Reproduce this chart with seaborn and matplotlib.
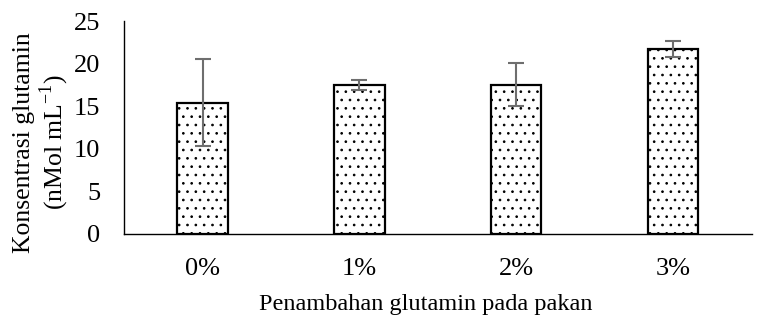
import pandas as pd
import matplotlib.pyplot as plt
import seaborn as sns

# --- Dados ---
perlakuan = ['0%', '1%', '2%', '3%']
konsentrasi = [15.4, 17.5, 17.55, 21.7]
sd = [5.1, 0.6, 2.5, 0.95]

sns.set_theme(style="white")
plt.rcParams['font.family'] = ['Liberation Serif', 'DejaVu Serif']
plt.rcParams['hatch.linewidth'] = 0.7
plt.rcParams['mathtext.fontset'] = 'custom'
plt.rcParams['mathtext.rm'] = 'Liberation Serif'

df = pd.DataFrame({'Perlakuan': perlakuan, 'Konsentrasi': konsentrasi, 'SD': sd})

fig = plt.figure(figsize=(7.57, 3.2), dpi=100)
ax = fig.add_axes([0.164, 0.269, 0.829, 0.665])

sns.barplot(data=df, x='Perlakuan', y='Konsentrasi', color='white', width=0.32,
            edgecolor='black', linewidth=1.6, errorbar=None, ax=ax)
for p in ax.patches:
    p.set_hatch('..')

ax.errorbar(range(len(perlakuan)), df['Konsentrasi'], yerr=df['SD'], fmt='none',
            ecolor='#6e6e6e', elinewidth=1.5, capsize=6, capthick=1.5)

ax.set_ylim(0, 25)
ax.set_xlim(-0.5, 3.5)
ax.set_yticks([0, 5, 10, 15, 20, 25])
ax.tick_params(axis='y', length=0, labelsize=19, pad=17, colors='black')
ax.tick_params(axis='x', length=0, labelsize=19, pad=17, colors='black')
for s in ['top', 'right']:
    ax.spines[s].set_visible(False)
for s in ['left', 'bottom']:
    ax.spines[s].set_color('black')
    ax.spines[s].set_linewidth(1.0)

ax.set_xlabel('Penambahan glutamin pada pakan', fontsize=17.5, color='black')
ax.xaxis.set_label_coords(0.48, -0.28)
ax.set_ylabel('Konsentrasi glutamin\n(nMol mL$^{-1}$)', fontsize=18.5,
              color='black', linespacing=1.12)
ax.yaxis.set_label_coords(-0.084, 0.43)

fig.savefig('out.png', dpi=100)
